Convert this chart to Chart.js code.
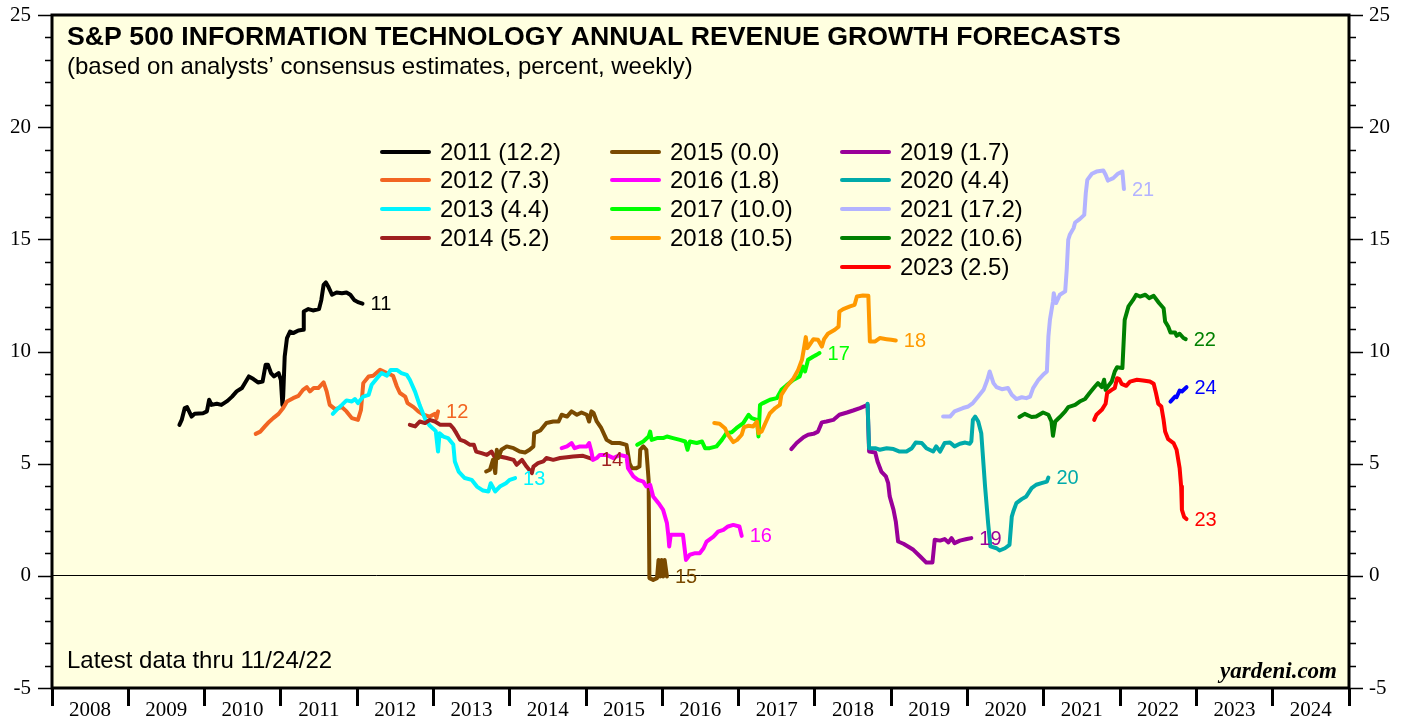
<!DOCTYPE html>
<html>
<head>
<meta charset="utf-8">
<script src="https://cdn.jsdelivr.net/npm/chart.js@4.4.0/dist/chart.umd.min.js"></script>
<style>
  html, body { margin: 0; padding: 0; background: #fff; }
  #wrap { width: 1407px; height: 717px; }
</style>
</head>
<body>
<div id="wrap"><canvas id="myChart" width="1407" height="717"></canvas></div>
<script>
// forecast years, each line = consensus forecast for that year (x = date as decimal year, y = percent)
const forecastYears = [2011, 2012, 2013, 2014, 2015, 2016, 2017, 2018, 2019, 2020, 2021, 2022, 2023, 2024]
const legendValues = ['12.2', '7.3', '4.4', '5.2', '0.0', '1.8', '10.0', '10.5', '1.7', '4.4', '17.2', '10.6', '2.5']
const yearLabels = Array.from({ length: 17 }, (_, i) => 2008 + i)

const fc2011 = [[2009.67, 6.73], [2009.70, 6.95], [2009.74, 7.48], [2009.77, 7.52], [2009.83, 7.10], [2009.87, 7.22], [2009.98, 7.25], [2010.03, 7.33], [2010.06, 7.85], [2010.09, 7.62], [2010.16, 7.67], [2010.22, 7.62], [2010.30, 7.80], [2010.36, 7.99], [2010.42, 8.22], [2010.49, 8.37], [2010.58, 8.89], [2010.64, 8.77], [2010.70, 8.62], [2010.76, 8.66], [2010.80, 9.41], [2010.83, 9.41], [2010.87, 9.04], [2010.91, 8.89], [2010.97, 9.04], [2011.00, 8.74], [2011.02, 7.62], [2011.03, 7.99], [2011.05, 9.78], [2011.08, 10.60], [2011.12, 10.89], [2011.16, 10.82], [2011.23, 10.94], [2011.29, 10.97], [2011.30, 11.78], [2011.36, 11.89], [2011.42, 11.83], [2011.50, 11.89], [2011.53, 12.30], [2011.56, 12.97], [2011.59, 13.08], [2011.62, 12.90], [2011.67, 12.53], [2011.73, 12.63], [2011.80, 12.60], [2011.86, 12.63], [2011.91, 12.53], [2011.96, 12.30], [2012.01, 12.20], [2012.07, 12.13]]
const fc2012 = [[2010.67, 6.33], [2010.73, 6.43], [2010.79, 6.66], [2010.83, 6.81], [2010.90, 7.03], [2010.97, 7.22], [2011.03, 7.48], [2011.08, 7.77], [2011.16, 7.92], [2011.23, 8.02], [2011.29, 8.29], [2011.34, 8.41], [2011.38, 8.22], [2011.43, 8.37], [2011.49, 8.37], [2011.56, 8.62], [2011.60, 8.22], [2011.64, 7.62], [2011.71, 7.43], [2011.80, 7.52], [2011.86, 7.33], [2011.93, 7.03], [2012.01, 6.95], [2012.05, 7.40], [2012.08, 8.59], [2012.15, 8.89], [2012.21, 8.92], [2012.30, 9.18], [2012.39, 9.04], [2012.47, 8.92], [2012.52, 8.44], [2012.56, 8.15], [2012.63, 7.99], [2012.66, 7.70], [2012.74, 7.52], [2012.80, 7.33], [2012.87, 7.18], [2012.95, 7.10], [2013.02, 7.22], [2013.04, 7.03], [2013.06, 7.33]]
const fc2013 = [[2011.68, 7.22], [2011.73, 7.40], [2011.80, 7.62], [2011.86, 7.82], [2011.93, 7.77], [2011.97, 7.88], [2012.01, 7.70], [2012.08, 7.99], [2012.15, 8.07], [2012.19, 8.52], [2012.26, 8.81], [2012.32, 9.04], [2012.39, 8.92], [2012.44, 9.18], [2012.52, 9.18], [2012.58, 9.04], [2012.65, 8.96], [2012.69, 8.74], [2012.76, 8.20], [2012.82, 7.60], [2012.89, 7.00], [2012.95, 6.70], [2013.00, 6.55], [2013.03, 6.45], [2013.06, 5.54], [2013.08, 6.36], [2013.13, 6.21], [2013.19, 6.14], [2013.26, 5.85], [2013.28, 5.10], [2013.33, 4.65], [2013.41, 4.36], [2013.50, 4.28], [2013.57, 3.98], [2013.65, 3.80], [2013.72, 3.76], [2013.75, 4.13], [2013.81, 3.76], [2013.87, 3.98], [2013.95, 4.13], [2014.00, 4.28], [2014.07, 4.36]]
const fc2014 = [[2012.69, 6.73], [2012.76, 6.66], [2012.82, 6.88], [2012.89, 6.81], [2012.95, 6.95], [2013.02, 6.88], [2013.09, 6.73], [2013.15, 6.73], [2013.22, 6.73], [2013.26, 6.58], [2013.30, 6.36], [2013.35, 6.06], [2013.41, 5.99], [2013.48, 5.84], [2013.53, 5.84], [2013.56, 5.54], [2013.63, 5.47], [2013.70, 5.39], [2013.76, 5.54], [2013.81, 5.25], [2013.87, 5.32], [2013.96, 5.25], [2014.05, 5.17], [2014.09, 4.95], [2014.16, 5.17], [2014.22, 4.87], [2014.29, 4.58], [2014.31, 4.87], [2014.37, 5.02], [2014.44, 5.10], [2014.48, 5.25], [2014.57, 5.17], [2014.66, 5.25], [2014.75, 5.29], [2014.83, 5.32], [2014.96, 5.35], [2015.05, 5.25], [2015.09, 5.20]]
const fc2015 = [[2013.69, 4.65], [2013.74, 4.73], [2013.78, 5.17], [2013.81, 4.58], [2013.83, 5.62], [2013.85, 5.25], [2013.89, 5.62], [2013.96, 5.77], [2014.05, 5.69], [2014.13, 5.54], [2014.20, 5.50], [2014.26, 5.62], [2014.31, 5.77], [2014.32, 6.36], [2014.40, 6.48], [2014.48, 6.81], [2014.57, 6.88], [2014.64, 6.88], [2014.68, 7.18], [2014.75, 7.10], [2014.81, 7.33], [2014.88, 7.18], [2014.94, 7.28], [2015.01, 7.18], [2015.04, 6.88], [2015.07, 7.33], [2015.10, 7.25], [2015.14, 6.88], [2015.20, 6.58], [2015.27, 6.06], [2015.34, 5.92], [2015.44, 5.92], [2015.53, 5.84], [2015.57, 5.02], [2015.60, 4.80], [2015.66, 4.80], [2015.70, 4.87], [2015.71, 5.62], [2015.75, 5.77], [2015.79, 5.62], [2015.82, 4.28], [2015.83, -0.10], [2015.88, -0.18], [2015.93, -0.10], [2015.95, 0.71], [2015.97, -0.03], [2015.99, 0.71], [2016.01, -0.03], [2016.03, 0.71], [2016.06, -0.03]]
const fc2016 = [[2014.68, 5.69], [2014.75, 5.77], [2014.81, 5.92], [2014.85, 5.69], [2014.92, 5.77], [2015.01, 5.77], [2015.04, 5.92], [2015.07, 5.54], [2015.09, 5.17], [2015.14, 5.25], [2015.18, 5.39], [2015.27, 5.39], [2015.36, 5.25], [2015.44, 5.39], [2015.53, 5.32], [2015.55, 4.80], [2015.62, 4.43], [2015.68, 4.28], [2015.75, 4.20], [2015.79, 3.98], [2015.84, 4.06], [2015.88, 3.54], [2015.95, 3.24], [2016.01, 2.94], [2016.06, 2.35], [2016.08, 1.75], [2016.09, 1.31], [2016.11, 1.83], [2016.17, 1.83], [2016.27, 1.83], [2016.31, 0.71], [2016.36, 0.94], [2016.43, 1.01], [2016.49, 1.01], [2016.54, 1.23], [2016.58, 1.53], [2016.67, 1.75], [2016.73, 1.97], [2016.80, 2.05], [2016.86, 2.20], [2016.93, 2.27], [2017.01, 2.20], [2017.04, 1.78]]
const fc2017 = [[2015.67, 5.84], [2015.75, 5.99], [2015.82, 6.21], [2015.84, 6.43], [2015.86, 6.06], [2015.93, 6.14], [2016.01, 6.14], [2016.06, 6.21], [2016.14, 6.14], [2016.23, 6.06], [2016.30, 5.99], [2016.33, 5.62], [2016.36, 5.99], [2016.45, 5.92], [2016.52, 5.99], [2016.56, 5.69], [2016.62, 5.69], [2016.71, 5.77], [2016.78, 6.06], [2016.84, 6.36], [2016.91, 6.40], [2016.97, 6.58], [2017.06, 6.81], [2017.13, 7.18], [2017.17, 7.03], [2017.24, 6.95], [2017.26, 6.21], [2017.28, 7.62], [2017.32, 7.70], [2017.41, 7.85], [2017.50, 7.92], [2017.56, 8.29], [2017.63, 8.50], [2017.72, 8.74], [2017.80, 8.89], [2017.84, 9.33], [2017.87, 9.11], [2017.91, 9.63], [2017.98, 9.78], [2018.02, 9.85], [2018.06, 9.93]]
const fc2018 = [[2016.68, 6.81], [2016.75, 6.78], [2016.82, 6.58], [2016.86, 6.29], [2016.93, 5.96], [2016.98, 6.06], [2017.04, 6.29], [2017.07, 6.63], [2017.13, 6.69], [2017.19, 6.66], [2017.24, 6.88], [2017.26, 6.36], [2017.30, 6.43], [2017.36, 6.88], [2017.41, 7.25], [2017.48, 7.48], [2017.54, 7.62], [2017.56, 8.07], [2017.63, 8.44], [2017.72, 8.81], [2017.78, 9.18], [2017.83, 9.63], [2017.86, 10.22], [2017.88, 10.64], [2017.90, 10.15], [2017.93, 10.30], [2017.98, 10.55], [2018.04, 10.52], [2018.09, 10.22], [2018.12, 10.55], [2018.17, 10.79], [2018.26, 10.97], [2018.31, 11.11], [2018.32, 11.78], [2018.37, 11.89], [2018.46, 12.01], [2018.52, 12.08], [2018.55, 12.45], [2018.63, 12.50], [2018.70, 12.48], [2018.72, 10.45], [2018.79, 10.45], [2018.85, 10.60], [2018.94, 10.55], [2019.00, 10.52], [2019.06, 10.49]]
const fc2019 = [[2017.69, 5.65], [2017.76, 5.92], [2017.85, 6.18], [2017.91, 6.29], [2017.98, 6.33], [2018.04, 6.43], [2018.09, 6.84], [2018.15, 6.88], [2018.24, 6.95], [2018.32, 7.18], [2018.42, 7.28], [2018.50, 7.37], [2018.59, 7.48], [2018.69, 7.62], [2018.71, 5.54], [2018.79, 5.50], [2018.82, 5.10], [2018.87, 4.65], [2018.93, 4.43], [2018.96, 4.13], [2018.98, 3.54], [2019.03, 2.94], [2019.06, 2.42], [2019.09, 1.53], [2019.16, 1.43], [2019.22, 1.31], [2019.29, 1.16], [2019.38, 0.86], [2019.46, 0.59], [2019.54, 0.59], [2019.57, 1.61], [2019.64, 1.57], [2019.70, 1.64], [2019.75, 1.49], [2019.79, 1.68], [2019.83, 1.46], [2019.90, 1.57], [2019.99, 1.64], [2020.05, 1.68]]
const fc2020 = [[2018.69, 7.67], [2018.71, 5.69], [2018.79, 5.69], [2018.85, 5.62], [2018.94, 5.69], [2019.03, 5.65], [2019.11, 5.54], [2019.20, 5.54], [2019.27, 5.69], [2019.32, 5.94], [2019.40, 5.92], [2019.46, 5.69], [2019.55, 5.54], [2019.59, 5.77], [2019.64, 5.54], [2019.70, 5.92], [2019.77, 5.94], [2019.83, 5.77], [2019.90, 5.89], [2019.97, 5.94], [2020.03, 5.89], [2020.05, 5.99], [2020.07, 6.95], [2020.10, 7.10], [2020.14, 6.88], [2020.18, 6.36], [2020.23, 3.98], [2020.27, 2.35], [2020.30, 1.31], [2020.38, 1.23], [2020.42, 1.13], [2020.49, 1.23], [2020.55, 1.38], [2020.58, 2.64], [2020.60, 2.87], [2020.64, 3.24], [2020.71, 3.42], [2020.77, 3.54], [2020.84, 3.91], [2020.90, 4.06], [2020.97, 4.13], [2021.04, 4.20], [2021.06, 4.38]]
const fc2021 = [[2019.68, 7.10], [2019.77, 7.10], [2019.83, 7.33], [2019.94, 7.48], [2020.01, 7.55], [2020.07, 7.70], [2020.14, 7.99], [2020.21, 8.29], [2020.26, 8.74], [2020.29, 9.11], [2020.34, 8.59], [2020.38, 8.41], [2020.45, 8.32], [2020.53, 8.37], [2020.58, 8.07], [2020.64, 7.88], [2020.71, 7.96], [2020.77, 7.92], [2020.82, 7.99], [2020.86, 8.37], [2020.93, 8.74], [2020.99, 8.96], [2021.04, 9.11], [2021.06, 10.67], [2021.08, 11.41], [2021.12, 12.23], [2021.13, 12.60], [2021.16, 12.16], [2021.21, 12.53], [2021.28, 12.68], [2021.30, 13.64], [2021.32, 14.98], [2021.34, 15.20], [2021.39, 15.50], [2021.41, 15.75], [2021.47, 15.90], [2021.53, 16.09], [2021.55, 17.06], [2021.57, 17.65], [2021.63, 17.92], [2021.69, 18.02], [2021.78, 18.07], [2021.81, 17.88], [2021.84, 17.62], [2021.91, 17.73], [2021.97, 17.92], [2022.03, 18.02], [2022.05, 17.24]]
const fc2022 = [[2020.68, 7.08], [2020.75, 7.22], [2020.84, 7.08], [2020.90, 7.10], [2020.99, 7.28], [2021.06, 7.18], [2021.10, 6.88], [2021.12, 6.24], [2021.15, 6.88], [2021.21, 7.08], [2021.28, 7.33], [2021.32, 7.52], [2021.41, 7.62], [2021.47, 7.77], [2021.54, 7.88], [2021.60, 8.15], [2021.67, 8.44], [2021.71, 8.59], [2021.76, 8.41], [2021.79, 8.74], [2021.81, 8.29], [2021.84, 8.44], [2021.89, 8.66], [2021.93, 9.11], [2021.96, 9.30], [2022.03, 9.26], [2022.06, 11.41], [2022.11, 12.01], [2022.17, 12.30], [2022.21, 12.53], [2022.26, 12.45], [2022.33, 12.53], [2022.38, 12.38], [2022.44, 12.48], [2022.51, 12.16], [2022.57, 11.93], [2022.59, 11.34], [2022.63, 11.11], [2022.66, 10.85], [2022.72, 10.85], [2022.74, 10.70], [2022.78, 10.79], [2022.83, 10.60], [2022.86, 10.55]]
const fc2023 = [[2021.66, 6.95], [2021.69, 7.18], [2021.76, 7.40], [2021.81, 7.67], [2021.83, 8.15], [2021.89, 8.29], [2021.93, 8.37], [2021.96, 8.81], [2021.99, 8.77], [2022.02, 8.56], [2022.08, 8.47], [2022.13, 8.66], [2022.22, 8.74], [2022.30, 8.71], [2022.39, 8.66], [2022.44, 8.56], [2022.47, 8.15], [2022.50, 7.67], [2022.54, 7.55], [2022.57, 6.95], [2022.59, 6.43], [2022.63, 6.09], [2022.70, 5.92], [2022.74, 5.62], [2022.78, 4.80], [2022.80, 3.98], [2022.81, 2.94], [2022.84, 2.62], [2022.87, 2.53]]
const fc2024 = [[2022.66, 7.77], [2022.72, 7.99], [2022.74, 7.96], [2022.78, 8.26], [2022.81, 8.22], [2022.87, 8.41]]

const forecasts = [fc2011, fc2012, fc2013, fc2014, fc2015, fc2016, fc2017, fc2018, fc2019, fc2020, fc2021, fc2022, fc2023, fc2024]
const lineColors = ['#000000', '#f26522', '#00f4ff', '#9e1f1f', '#7a4a00', '#ff00ff', '#00ff00', '#ff9900', '#990099', '#00aaaa', '#b3b3ff', '#008000', '#ff0000', '#0000ff']

const SANS = '"Liberation Sans", Arial, sans-serif'
const SERIF = '"Liberation Serif", "Times New Roman", serif'

const datasets = forecasts.map((points, i) => ({
  label: String(forecastYears[i]),
  data: points.map(p => ({ x: p[0], y: p[1] })),
  borderColor: lineColors[i],
  borderWidth: 4,
  pointRadius: 0,
  tension: 0,
  fill: false,
  borderJoinStyle: 'round',
  borderCapStyle: 'round',
  order: 100 - i // later forecasts on top
}))

// yellow plot background
const plotBackground = {
  id: 'plotBackground',
  beforeDraw(chart) {
    const { ctx, chartArea: a } = chart
    ctx.save()
    ctx.fillStyle = '#ffffff'
    ctx.fillRect(0, 0, chart.width, chart.height)
    ctx.fillStyle = '#ffffe0'
    ctx.fillRect(a.left, a.top, a.right - a.left, a.bottom - a.top)
    ctx.restore()
  }
}

// frame, y ticks, titles, legend and end labels
const decorations = {
  id: 'decorations',
  afterDraw(chart) {
    const { ctx, chartArea: a } = chart
    const yScale = chart.scales.y
    ctx.save()

    // y ticks on both sides
    ctx.strokeStyle = '#000'
    ctx.lineWidth = 1.5
    ctx.beginPath()
    for (let v = -5; v <= 25; v++) {
      const py = Math.round(yScale.getPixelForValue(v)) + 0.5
      const len = v % 5 === 0 ? 14 : 7
      ctx.moveTo(a.left - len, py)
      ctx.lineTo(a.left, py)
      ctx.moveTo(a.right, py)
      ctx.lineTo(a.right + len, py)
    }
    ctx.stroke()

    // frame
    ctx.lineWidth = 3
    ctx.strokeRect(a.left, a.top, a.right - a.left, a.bottom - a.top)

    // end-of-line labels (two digit year)
    ctx.font = '20px ' + SANS
    ctx.textBaseline = 'middle'
    ctx.textAlign = 'left'
    chart.data.datasets.forEach((ds, i) => {
      const last = chart.getDatasetMeta(i).data.at(-1)
      ctx.fillStyle = lineColors[i]
      ctx.fillText(String(forecastYears[i]).slice(2), last.x + 8, last.y + 1)
    })

    // title
    ctx.fillStyle = '#000'
    ctx.textBaseline = 'alphabetic'
    ctx.font = 'bold 26.7px ' + SANS
    ctx.fillText('S&P 500 INFORMATION TECHNOLOGY ANNUAL REVENUE GROWTH FORECASTS', 67, 45)
    ctx.font = '24px ' + SANS
    ctx.fillText('(based on analysts\u2019 consensus estimates, percent, weekly)', 67, 74)

    // legend, three columns
    const colX = [382, 612, 842]
    const rowY = [152, 180, 209, 238, 267]
    ctx.font = '24px ' + SANS
    legendValues.forEach((val, i) => {
      const col = i < 4 ? 0 : i < 8 ? 1 : 2
      const row = col === 0 ? i : col === 1 ? i - 4 : i - 8
      const x = colX[col]
      const y = rowY[row]
      ctx.strokeStyle = lineColors[i]
      ctx.lineWidth = 4
      ctx.lineCap = 'round'
      ctx.beginPath()
      ctx.moveTo(x, y)
      ctx.lineTo(x + 47, y)
      ctx.stroke()
      ctx.fillStyle = '#000'
      ctx.textBaseline = 'middle'
      ctx.fillText(forecastYears[i] + ' (' + val + ')', x + 58, y + 1)
    })

    // notes
    ctx.textBaseline = 'alphabetic'
    ctx.font = '24px ' + SANS
    ctx.fillText('Latest data thru 11/24/22', 67, 668)
    ctx.font = 'italic bold 23px ' + SERIF
    ctx.textAlign = 'right'
    ctx.fillText('yardeni.com', 1337, 678)
    ctx.restore()
  }
}

const ctx = document.getElementById('myChart').getContext('2d')

const myChart = new Chart(ctx, {
  type: 'line',
  data: { datasets: datasets },
  options: {
    responsive: false,
    animation: false,
    devicePixelRatio: 1,
    layout: { padding: { top: 15, left: 0, right: 0, bottom: 0 } },
    plugins: {
      legend: { display: false },
      tooltip: { enabled: false },
      title: { display: false }
    },
    scales: {
      x: {
        type: 'linear',
        position: 'bottom',
        min: 2008,
        max: 2025,
        ticks: {
          stepSize: 1,
          autoSkip: false,
          maxRotation: 0,
          labelOffset: 38,
          padding: -8,
          color: '#000',
          font: { family: SERIF, size: 21 },
          callback: v => yearLabels.includes(v) ? String(v) : ''
        },
        grid: { drawOnChartArea: false, drawTicks: true, tickLength: 18, tickWidth: 3, tickColor: '#000' },
        border: { display: false },
        afterFit: s => { s.height = 29 }
      },
      y: {
        type: 'linear',
        position: 'left',
        min: -5,
        max: 25,
        ticks: { stepSize: 5, padding: 0, color: '#000', font: { family: SERIF, size: 21 } },
        grid: {
          drawTicks: true,
          tickLength: 21,
          tickColor: 'rgba(0,0,0,0)',
          drawOnChartArea: true,
          lineWidth: 1,
          color: c => (c.tick && c.tick.value === 0 ? '#000' : 'rgba(0,0,0,0)')
        },
        border: { display: false },
        afterFit: s => { s.width = 52 }
      },
      y2: {
        type: 'linear',
        position: 'right',
        display: true,
        min: -5,
        max: 25,
        ticks: { stepSize: 5, padding: 0, color: '#000', font: { family: SERIF, size: 21 } },
        grid: { drawTicks: true, tickLength: 20, tickColor: 'rgba(0,0,0,0)', drawOnChartArea: false },
        border: { display: false },
        afterFit: s => { s.width = 58 }
      }
    }
  },
  plugins: [plotBackground, decorations]
})
</script>
</body>
</html>
